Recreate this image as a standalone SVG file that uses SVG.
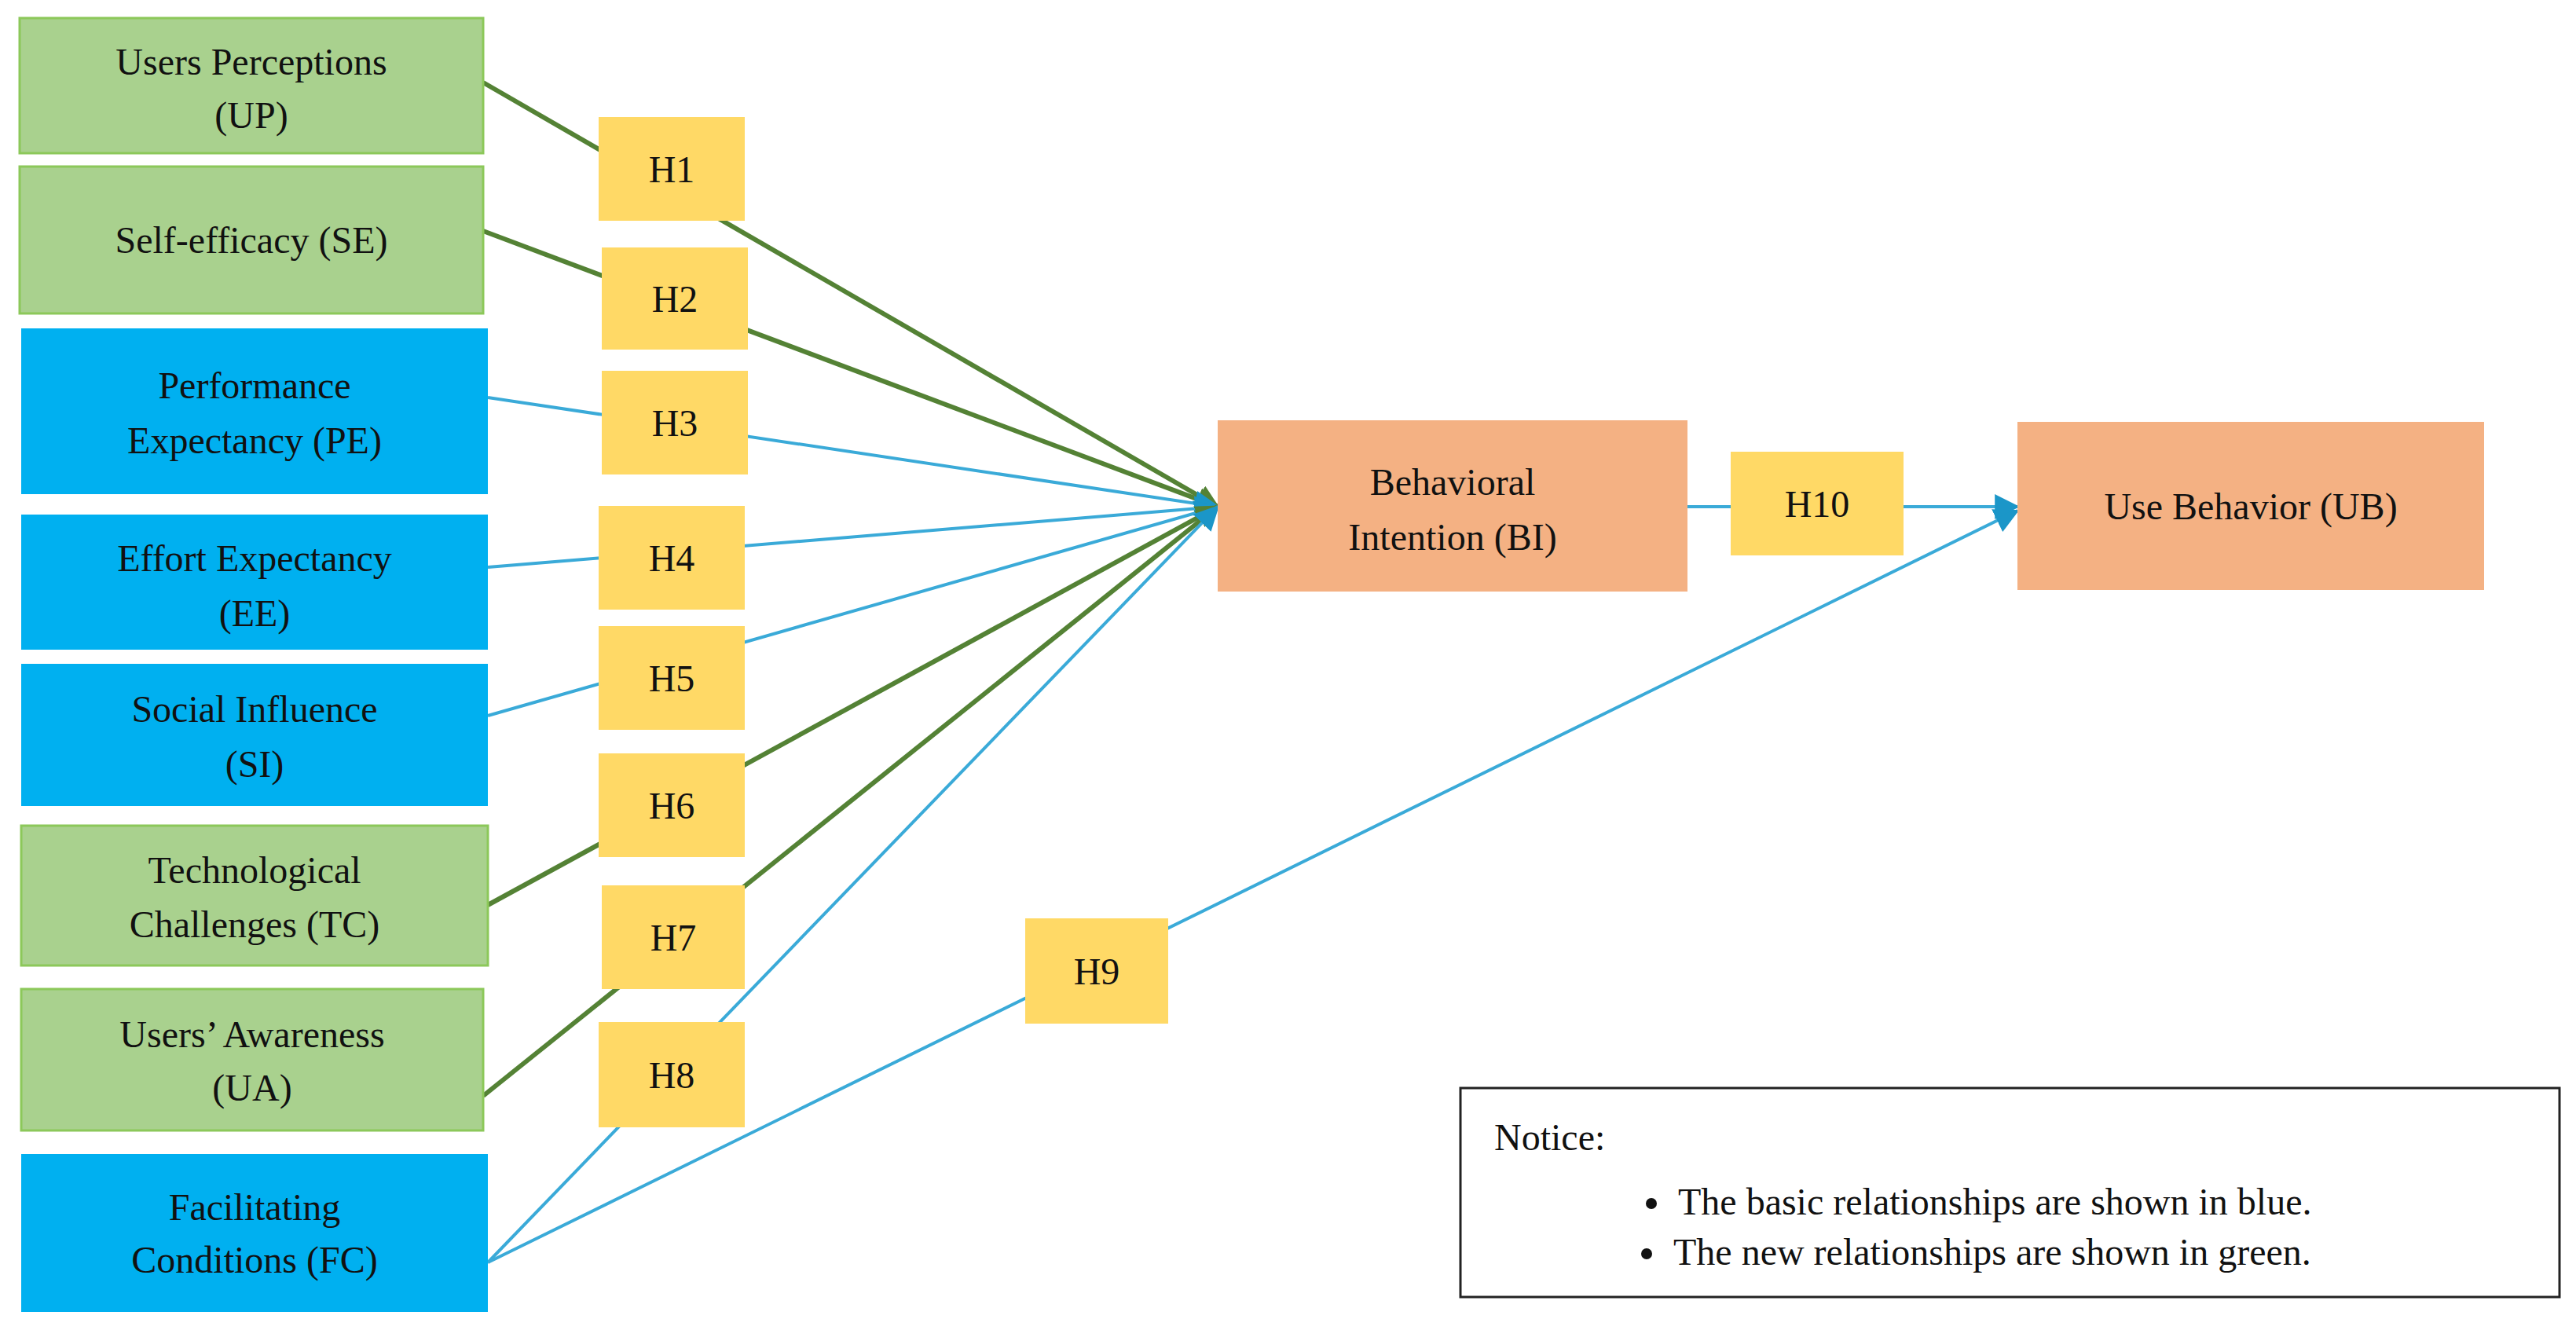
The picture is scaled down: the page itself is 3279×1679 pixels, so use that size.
<svg xmlns="http://www.w3.org/2000/svg" width="3279" height="1679" viewBox="0 0 3279 1679">
<style>
text{font-family:"Liberation Serif","DejaVu Serif",serif;font-size:48px;fill:#111;text-anchor:middle}
.g{fill:#A9D18E;stroke:#8CC85A;stroke-width:3}
.b{fill:#00B0F0}
.o{fill:#F4B183}
.h{fill:#FFD966}
.lg{stroke:#548235;stroke-width:6;fill:none}
.lb{stroke:#3AAAD8;stroke-width:4;fill:none}
</style>
<defs>
<marker id="ag" viewBox="0 0 10 10" refX="9" refY="5" markerWidth="5" markerHeight="5" markerUnits="strokeWidth" orient="auto"><path d="M0,0L10,5L0,10z" fill="#548235"/></marker>
<marker id="ab" viewBox="0 0 10 10" refX="9" refY="5" markerWidth="8" markerHeight="8" markerUnits="strokeWidth" orient="auto"><path d="M0,0L10,5L0,10z" fill="#1B96C8"/></marker>
</defs>
<g id="connectors">
<line class="lg" x1="615" y1="105" x2="1550" y2="645" marker-end="url(#ag)"/>
<line class="lg" x1="615" y1="294" x2="1550" y2="645" marker-end="url(#ag)"/>
<line class="lb" x1="621" y1="506" x2="1550" y2="645" marker-end="url(#ab)"/>
<line class="lb" x1="621" y1="722" x2="1550" y2="645" marker-end="url(#ab)"/>
<line class="lb" x1="621" y1="911" x2="1550" y2="645" marker-end="url(#ab)"/>
<line class="lg" x1="621" y1="1152" x2="1550" y2="645" marker-end="url(#ag)"/>
<line class="lg" x1="615" y1="1395" x2="1550" y2="645" marker-end="url(#ag)"/>
<line class="lb" x1="621" y1="1607" x2="1550" y2="645" marker-end="url(#ab)"/>
<line class="lb" x1="621" y1="1607" x2="2568" y2="650" marker-end="url(#ab)"/>
<line class="lb" x1="2148" y1="645" x2="2568" y2="645" marker-end="url(#ab)"/>
</g>
<g id="UP"><rect class="g" x="25" y="23" width="590" height="172"/><text x="320" y="95">Users Perceptions</text><text x="320" y="163">(UP)</text></g>
<g id="SE"><rect class="g" x="25" y="212" width="590" height="187"/><text x="320" y="322">Self-efficacy (SE)</text></g>
<g id="PE"><rect class="b" x="27" y="418" width="594" height="211"/><text x="324" y="507">Performance</text><text x="324" y="577">Expectancy (PE)</text></g>
<g id="EE"><rect class="b" x="27" y="655" width="594" height="172"/><text x="324" y="727">Effort Expectancy</text><text x="324" y="797">(EE)</text></g>
<g id="SI"><rect class="b" x="27" y="845" width="594" height="181"/><text x="324" y="919">Social Influence</text><text x="324" y="989">(SI)</text></g>
<g id="TC"><rect class="g" x="27" y="1051" width="594" height="178"/><text x="324" y="1124">Technological</text><text x="324" y="1193">Challenges (TC)</text></g>
<g id="UA"><rect class="g" x="27" y="1259" width="588" height="180"/><text x="321" y="1333">Users’ Awareness</text><text x="321" y="1401">(UA)</text></g>
<g id="FC"><rect class="b" x="27" y="1469" width="594" height="201"/><text x="324" y="1553">Facilitating</text><text x="324" y="1620">Conditions (FC)</text></g>
<g id="H1"><rect class="h" x="762" y="149" width="186" height="132"/><text x="855" y="232">H1</text></g>
<g id="H2"><rect class="h" x="766" y="315" width="186" height="130"/><text x="859" y="397">H2</text></g>
<g id="H3"><rect class="h" x="766" y="472" width="186" height="132"/><text x="859" y="555">H3</text></g>
<g id="H4"><rect class="h" x="762" y="644" width="186" height="132"/><text x="855" y="727">H4</text></g>
<g id="H5"><rect class="h" x="762" y="797" width="186" height="132"/><text x="855" y="880">H5</text></g>
<g id="H6"><rect class="h" x="762" y="959" width="186" height="132"/><text x="855" y="1042">H6</text></g>
<g id="H7"><rect class="h" x="766" y="1127" width="182" height="132"/><text x="857" y="1210">H7</text></g>
<g id="H8"><rect class="h" x="762" y="1301" width="186" height="134"/><text x="855" y="1385">H8</text></g>
<g id="H9"><rect class="h" x="1305" y="1169" width="182" height="134"/><text x="1396" y="1253">H9</text></g>
<g id="BI"><rect class="o" x="1550" y="535" width="598" height="218"/><text x="1849" y="630">Behavioral</text><text x="1849" y="700">Intention (BI)</text></g>
<g id="H10"><rect class="h" x="2203" y="575" width="220" height="132"/><text x="2313" y="658">H10</text></g>
<g id="UB"><rect class="o" x="2568" y="537" width="594" height="214"/><text x="2865" y="661">Use Behavior (UB)</text></g>
<g id="notice"><rect x="1859" y="1385" width="1399" height="266" fill="#fff" stroke="#222" stroke-width="3"/>
<text x="1902" y="1464" style="text-anchor:start">Notice:</text>
<circle cx="2102" cy="1532" r="7" fill="#111"/><text x="2136" y="1546" style="text-anchor:start">The basic relationships are shown in blue.</text>
<circle cx="2096" cy="1596" r="7" fill="#111"/><text x="2130" y="1610" style="text-anchor:start">The new relationships are shown in green.</text>
</g>
</svg>
